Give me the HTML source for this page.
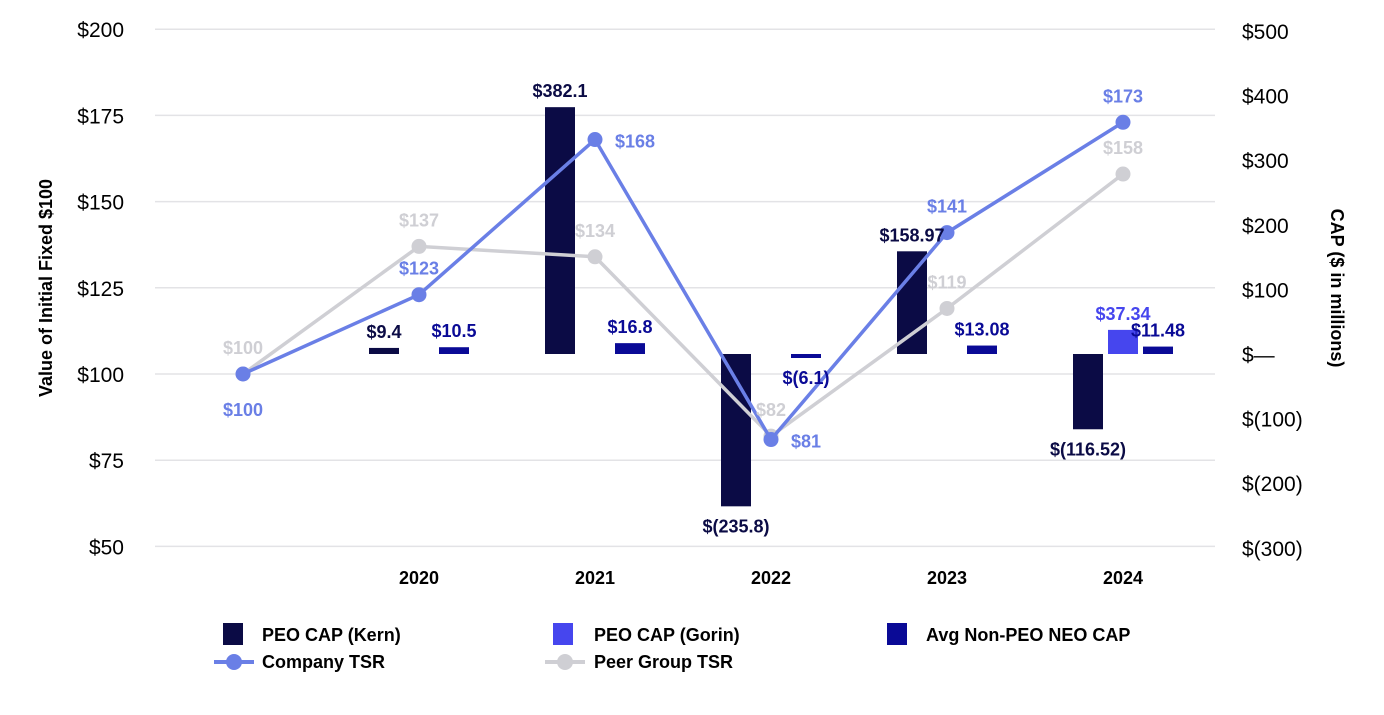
<!DOCTYPE html>
<html><head><meta charset="utf-8"><style>
body{margin:0;background:#fff;font-family:"Liberation Sans",Arial,sans-serif}
svg text{font-family:"Liberation Sans",Arial,sans-serif}
</style></head><body>
<svg width="1384" height="710" viewBox="0 0 1384 710">
<g id="grid"></g><g id="bars"></g><g id="lines"></g><g id="labels"></g>
<text x="0" y="0" transform="translate(52,288) rotate(-90)" text-anchor="middle" font-size="18" font-weight="bold">Value of Initial Fixed $100</text>
<text x="0" y="0" transform="translate(1331,288) rotate(90)" text-anchor="middle" font-size="18" font-weight="bold">CAP ($ in millions)</text>
<g font-size="18" font-weight="bold">
<rect x="223" y="623" width="20" height="22" fill="#0b0b45"/>
<text x="262" y="641">PEO CAP (Kern)</text>
<rect x="553" y="623" width="20" height="22" fill="#4646ee"/>
<text x="594" y="641">PEO CAP (Gorin)</text>
<rect x="887" y="623" width="20" height="22" fill="#0a0a96"/>
<text x="926" y="641">Avg Non-PEO NEO CAP</text>
<line x1="214" y1="662" x2="254" y2="662" stroke="#6a7fe6" stroke-width="4"/>
<circle cx="234" cy="662" r="8" fill="#6a7fe6"/>
<text x="262" y="668">Company TSR</text>
<line x1="545" y1="662" x2="585" y2="662" stroke="#cfcfd4" stroke-width="4"/>
<circle cx="565" cy="662" r="8" fill="#cfcfd4"/>
<text x="594" y="668">Peer Group TSR</text>
</g>
</svg>
<script>
const categories=["","2020","2021","2022","2023","2024"];
const companyTSR=[100,123,168,81,141,173];
const peerTSR=[100,137,134,82,119,158];
const kernCAP=[null,9.4,382.1,-235.8,158.97,-116.52];
const kernLabels=["","$9.4","$382.1","$(235.8)","$158.97","$(116.52)"];
const gorinCAP=[null,null,null,null,null,37.34];
const gorinLabels=["","","","","","$37.34"];
const nonPeoCAP=[null,10.5,16.8,-6.1,13.08,11.48];
const nonPeoLabels=["","$10.5","$16.8","$(6.1)","$13.08","$11.48"];
const leftTicks=[50,75,100,125,150,175,200];
const rightTicks=[500,400,300,200,100,0,-100,-200,-300];
const rightTickLabels=["$500","$400","$300","$200","$100","$—","$(100)","$(200)","$(300)"];

const NS="http://www.w3.org/2000/svg";
const yL=v=>374-(v-100)*86.2/25;
const yR=v=>354-v*0.646;
const xC=i=>243+i*176;
function mk(tag,attrs,parent,txt){const e=document.createElementNS(NS,tag);for(const k in attrs)e.setAttribute(k,attrs[k]);if(txt!=null)e.textContent=txt;parent.appendChild(e);return e;}
const grid=document.getElementById('grid'),bars=document.getElementById('bars'),lines=document.getElementById('lines'),labels=document.getElementById('labels');
leftTicks.forEach(t=>{
 const l=mk('line',{x1:155,x2:1215,y1:yL(t),y2:yL(t),stroke:'#e3e3e6','stroke-width':1.5},grid);
 
 
 const tx=mk('text',{x:124,y:yL(t)+8,'text-anchor':'end','font-size':21},grid,'$'+t);
 
 
});
rightTicks.forEach((t,i)=>{
 const tx=mk('text',{x:1242,y:yR(t)+8,'font-size':21},grid,rightTickLabels[i]);
 
 
});
categories.forEach((c,i)=>{if(!c)return;
 const tx=mk('text',{x:xC(i),y:584,'text-anchor':'middle','font-size':18,'font-weight':'bold'},grid,c);
 
 
});
function drawBars(vals,labs,off,color,name,lblColor){
 vals.forEach((v,i)=>{if(v==null)return;
  const x=xC(i)+off-15,y0=yR(0),y1=yR(v);
  const h=Math.max(Math.abs(y1-y0),4);
  const r=mk('rect',{x:x,y:v>=0?y0-h:y0,width:30,height:h,fill:color},bars);
  
  
  const ly=v>=0?Math.min(y0,y1)-10:Math.max(y0,y1)+26;
  const t=mk('text',{x:xC(i)+off,y:ly,'text-anchor':'middle','font-size':18,'font-weight':'bold',fill:lblColor},labels,labs[i]);
  
  
 });
}
drawBars(kernCAP,kernLabels,-35,'#0b0b45','kern','#0b0b45');
drawBars(gorinCAP,gorinLabels,0,'#4646ee','gorin','#4646ee');
drawBars(nonPeoCAP,nonPeoLabels,35,'#0a0a96','nonpeo','#0a0a96');
function drawLine(vals,color,name,place){
 const pts=vals.map((v,i)=>xC(i)+','+yL(v)).join(' ');
 const pl=mk('polyline',{points:pts,fill:'none',stroke:color,'stroke-width':3.5},lines);
 
 
 vals.forEach((v,i)=>{
  const c=mk('circle',{cx:xC(i),cy:yL(v),r:7.5,fill:color},lines);
  
  
  const p=place[i];let x=xC(i),y=yL(v)-20,a='middle';
  if(p==='below')y=yL(v)+42;
  if(p==='right'){x=xC(i)+20;y=yL(v)+8;a='start';}
  const t=mk('text',{x:x,y:y,'text-anchor':a,'font-size':18,'font-weight':'bold',fill:color},labels,'$'+v);
  
  
 });
}
drawLine(peerTSR,'#cfcfd4','peer-tsr',['above','above','above','above','above','above']);
drawLine(companyTSR,'#6a7fe6','company-tsr',['below','above','right','right','above','above']);
</script>
</body></html>
